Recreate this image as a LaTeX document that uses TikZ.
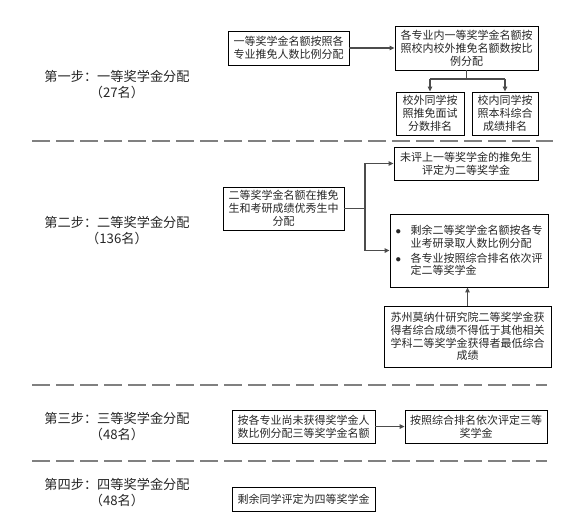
\documentclass[tikz,border=0pt]{standalone}
\usepackage{fontspec}
\setmainfont{Noto Sans CJK SC}
\usetikzlibrary{arrows.meta}
\newcommand\bxfont{\fontsize{11}{12.8}\selectfont}
\newcommand\lbfont{\fontsize{13.2}{16}\selectfont}
\begin{document}
\begin{tikzpicture}[x=1pt,y=-1pt,
  box/.style={draw=black, line width=0.8pt, inner sep=0pt, align=center, font=\bxfont, text=black!85},
  lab/.style={align=center, font=\lbfont, inner sep=0pt, text=black!85},
  conn/.style={draw=black!70, line width=1.2pt},
  arr/.style={conn, -{Triangle[length=5pt,width=4.5pt]}},
  sep/.style={draw=black!50, line width=2pt, dash pattern=on 18pt off 6pt}]
\useasboundingbox (0,0) rectangle (570,520);

% labels
\node[lab] (L1) at (117,85) {第一步：一等奖学金分配\\（27名）};
\node[lab] (L2) at (117,230.5) {第二步：二等奖学金分配\\（136名）};
\node[lab] (L3) at (117,427) {第三步：三等奖学金分配\\（48名）};
\node[lab] (L4) at (117,493) {第四步：四等奖学金分配\\（48名）};

% step 1
\node[box, minimum width=121pt, minimum height=34pt] (A) at (288.5,48) {一等奖学金名额按照各\\专业推免人数比例分配};
\node[box, minimum width=143pt, minimum height=44pt] (B) at (466.5,48) {各专业内一等奖学金名额按\\照校内校外推免名额数按比\\例分配};
\node[box, minimum width=68pt, minimum height=43pt] (C) at (430,113.5) {校外同学按\\照推免面试\\分数排名};
\node[box, minimum width=66pt, minimum height=43pt] (D) at (505,113.5) {校内同学按\\照本科综合\\成绩排名};
\draw[arr] (A.east) -- (B.west);
\coordinate (fk) at (466.5,79);
\draw[conn] (B.south) -- (fk);
\draw[conn] (fk -| C.north) -- (fk -| D.north);
\draw[arr] (fk -| C.north) -- (C.north);
\draw[arr] (fk -| D.north) -- (D.north);

% separators
\coordinate (s1a) at (32,141); \coordinate (s1b) at (553,141);
\coordinate (s2a) at (32,385); \coordinate (s2b) at (547,385);
\coordinate (s3a) at (32,461); \coordinate (s3b) at (547,461);
\draw[sep] (s1a) -- (s1b);
\draw[sep] (s2a) -- (s2b);
\draw[sep] (s3a) -- (s3b);

% step 2
\node[box, minimum width=144pt, minimum height=33pt] (E) at (466,163.5) {未评上一等奖学金的推免生\\评定为二等奖学金};
\node[box, minimum width=121pt, minimum height=43pt] (F) at (283.5,208.5) {二等奖学金名额在推免\\生和考研成绩优秀生中\\分配};
\node[box, minimum width=158pt, minimum height=73pt, align=left] (G) at (469,250.5)
  {\makebox[15pt][l]{$\bullet$}剩余二等奖学金名额按各专\\\hspace*{15pt}业考研录取人数比例分配\\[2pt]\makebox[15pt][l]{$\bullet$}各专业按照综合排名依次评\\\hspace*{15pt}定二等奖学金};
\node[box, minimum width=167pt, minimum height=61pt] (H) at (467.5,336.5) {苏州莫纳什研究院二等奖学金获\\得者综合成绩不得低于其他相关\\学科二等奖学金获得者最低综合\\成绩};
\coordinate (fj) at (365,208.5);
\draw[conn] (F.east) -- (fj);
\draw[arr] (fj) |- (E.west);
\draw[arr] (fj) |- (G.west);
\draw[arr] (H.north) -- (H.north |- G.south);

% step 3
\node[box, minimum width=143pt, minimum height=33pt] (I) at (303.5,426.5) {按各专业尚未获得奖学金人\\数比例分配三等奖学金名额};
\node[box, minimum width=142pt, minimum height=33pt] (J) at (476,426.5) {按照综合排名依次评定三等\\奖学金};
\draw[arr] (I.east) -- (J.west);

% step 4
\node[box, minimum width=143pt, minimum height=24pt] (K) at (303.5,499) {剩余同学评定为四等奖学金};
\end{tikzpicture}
\end{document}
